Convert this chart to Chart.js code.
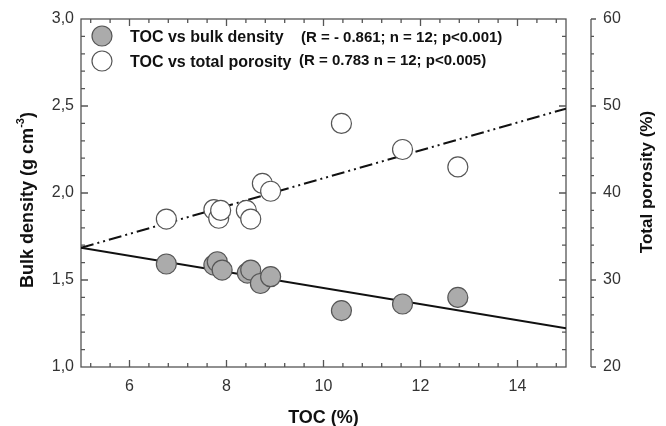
<!DOCTYPE html>
<html>
<head>
<meta charset="utf-8">
<script src="https://cdn.jsdelivr.net/npm/chart.js@4"></script>
<style>
  html, body { margin: 0; padding: 0; background: #fff; }
  #wrap { width: 666px; height: 426px; }
</style>
</head>
<body>
<div id="wrap"><canvas id="tocChart" width="666" height="426"></canvas></div>
<script>
// TOC vs bulk density (grey points, left axis)
const tocDensity = [6.76, 7.74, 7.81, 7.91, 8.43, 8.50, 8.70, 8.91, 10.37, 11.63, 12.77];
const bulkDensity = [1.592, 1.586, 1.605, 1.557, 1.540, 1.557, 1.480, 1.519, 1.324, 1.362, 1.400];

// TOC vs total porosity (white points, right axis)
const tocPorosity = [6.76, 7.74, 7.84, 7.88, 8.41, 8.50, 8.74, 8.91, 10.37, 11.63, 12.77];
const totalPorosity = [37.0, 38.1, 37.1, 38.0, 38.0, 37.0, 41.1, 40.2, 48.0, 45.0, 43.0];

// regression line end points
const fitX = [5, 15];
const fitDensity = [1.686, 1.222];
const fitPorosity = [33.7, 49.7];

// tick labels
const xTicks = [6, 8, 10, 12, 14];
const yTicks = [1.0, 1.5, 2.0, 2.5, 3.0];
const y2Ticks = [20, 30, 40, 50, 60];

const legendNames = ['TOC vs bulk density', 'TOC vs total porosity'];
const legendStats = ['(R = - 0.861; n = 12; p<0.001)', '(R = 0.783 n = 12; p<0.005)'];

const FONT = '"Liberation Sans", Arial, sans-serif';
const frameColor = '#555';
const greyFill = '#ababab';

function pts(xs, ys) {
    return xs.map(function (x, i) { return { x: x, y: ys[i] }; });
}

const frame = {
    id: 'frame',
    beforeDatasetsDraw(chart) {
        const ctx = chart.ctx;
        const a = chart.chartArea;
        const sx = chart.scales.x, sy = chart.scales.y, sy2 = chart.scales.y2;
        ctx.save();
        ctx.strokeStyle = frameColor;
        ctx.lineWidth = 1.3;
        ctx.strokeRect(a.left, a.top, a.right - a.left, a.bottom - a.top);

        ctx.beginPath();
        // x ticks, top and bottom, pointing inward
        for (let v = 5.2; v < 15; v += 0.4) {
            const px = sx.getPixelForValue(v);
            const major = Math.abs(v / 2 - Math.round(v / 2)) < 0.01;
            const len = major ? 7 : 4;
            ctx.moveTo(px, a.bottom); ctx.lineTo(px, a.bottom - len);
            ctx.moveTo(px, a.top); ctx.lineTo(px, a.top + len);
        }
        // y ticks, left and right, pointing inward
        for (let i = 1; i < 20; i++) {
            const v = 1 + i * 0.1;
            const py = sy.getPixelForValue(v);
            const len = i % 5 === 0 ? 7 : 4;
            ctx.moveTo(a.left, py); ctx.lineTo(a.left + len, py);
            ctx.moveTo(a.right, py); ctx.lineTo(a.right - len, py);
        }
        ctx.stroke();

        // separate right axis for porosity
        const ax = a.right + 25;
        ctx.beginPath();
        ctx.moveTo(ax, sy2.getPixelForValue(20));
        ctx.lineTo(ax, sy2.getPixelForValue(60));
        for (let v = 20; v <= 60; v += 2) {
            const py = sy2.getPixelForValue(v);
            ctx.moveTo(ax, py); ctx.lineTo(ax + (v % 10 === 0 ? 5 : 3), py);
        }
        ctx.stroke();

        // axis titles on the sides
        ctx.fillStyle = '#111';
        ctx.textBaseline = 'middle';
        ctx.save();
        ctx.translate(28, 200);
        ctx.rotate(-Math.PI / 2);
        const main = 'Bulk density (g cm';
        ctx.font = 'bold 18px ' + FONT;
        const w1 = ctx.measureText(main).width;
        ctx.font = 'bold 11px ' + FONT;
        const w2 = ctx.measureText('-3').width;
        ctx.font = 'bold 18px ' + FONT;
        const w3 = ctx.measureText(')').width;
        let tx = -(w1 + w2 + w3) / 2;
        ctx.textAlign = 'left';
        ctx.fillText(main, tx, 0);
        tx += w1;
        ctx.font = 'bold 11px ' + FONT;
        ctx.fillText('-3', tx, -7);
        tx += w2;
        ctx.font = 'bold 18px ' + FONT;
        ctx.fillText(')', tx, 0);
        ctx.restore();

        ctx.save();
        ctx.translate(647, 182);
        ctx.rotate(-Math.PI / 2);
        ctx.textAlign = 'center';
        ctx.font = 'bold 17px ' + FONT;
        ctx.fillText('Total porosity (%)', 0, 0);
        ctx.restore();
        ctx.restore();
    },
    afterDraw(chart) {
        const ctx = chart.ctx;
        ctx.save();
        const rows = [38, 63];
        const statX = [301, 299];
        const statY = [38, 61];
        const fills = [greyFill, '#fff'];
        rows.forEach(function (y, i) {
            ctx.beginPath();
            ctx.arc(102, y - 2, 10, 0, Math.PI * 2);
            ctx.fillStyle = fills[i];
            ctx.fill();
            ctx.lineWidth = 1.2;
            ctx.strokeStyle = frameColor;
            ctx.stroke();
            ctx.fillStyle = '#111';
            ctx.textBaseline = 'middle';
            ctx.textAlign = 'left';
            ctx.font = 'bold 16px ' + FONT;
            ctx.fillText(legendNames[i], 130, y);
            ctx.font = 'bold 15px ' + FONT;
            ctx.fillText(legendStats[i], statX[i], statY[i]);
        });
        ctx.restore();
    }
};

new Chart(document.getElementById('tocChart'), {
    type: 'scatter',
    data: {
        datasets: [{
            label: 'TOC vs bulk density',
            data: pts(tocDensity, bulkDensity),
            yAxisID: 'y',
            pointRadius: 10,
            pointBackgroundColor: greyFill,
            pointBorderColor: frameColor,
            pointBorderWidth: 1.2,
            order: 1
        }, {
            label: 'TOC vs total porosity',
            data: pts(tocPorosity, totalPorosity),
            yAxisID: 'y2',
            pointRadius: 10,
            pointBackgroundColor: '#fff',
            pointBorderColor: frameColor,
            pointBorderWidth: 1.2,
            order: 1
        }, {
            type: 'line',
            label: 'fit density',
            data: pts(fitX, fitDensity),
            yAxisID: 'y',
            borderColor: '#111',
            borderWidth: 2,
            pointRadius: 0,
            order: 2
        }, {
            type: 'line',
            label: 'fit porosity',
            data: pts(fitX, fitPorosity),
            yAxisID: 'y2',
            borderColor: '#111',
            borderWidth: 2,
            borderDash: [13, 4, 2, 4, 2, 4],
            pointRadius: 0,
            order: 2
        }]
    },
    options: {
        responsive: false,
        animation: false,
        layout: {
            padding: { top: 19, left: 0, right: 0, bottom: 0 }
        },
        scales: {
            x: {
                type: 'linear',
                min: 5,
                max: 15,
                afterBuildTicks: function (s) { s.ticks = xTicks.map(function (v) { return { value: v }; }); },
                afterFit: function (s) { s.height = 59; },
                grid: { display: false, drawTicks: false },
                border: { display: false },
                ticks: { padding: 10, color: '#333', font: { family: FONT, size: 16 } },
                title: {
                    display: true,
                    text: 'TOC (%)',
                    color: '#111',
                    padding: { top: 0, bottom: -3 },
                    font: { family: FONT, size: 18, weight: 'bold' }
                }
            },
            y: {
                type: 'linear',
                position: 'left',
                min: 1,
                max: 3,
                afterBuildTicks: function (s) { s.ticks = yTicks.map(function (v) { return { value: v }; }); },
                afterFit: function (s) { s.width = 81; },
                grid: { display: false, drawTicks: false },
                border: { display: false },
                ticks: {
                    padding: 7,
                    color: '#333',
                    font: { family: FONT, size: 16 },
                    callback: function (v) { return v.toFixed(1).replace('.', ','); }
                }
            },
            y2: {
                type: 'linear',
                position: 'right',
                min: 20,
                max: 60,
                afterBuildTicks: function (s) { s.ticks = y2Ticks.map(function (v) { return { value: v }; }); },
                afterFit: function (s) { s.width = 100; },
                grid: { display: false, drawTicks: true, tickLength: 33 },
                border: { display: false },
                ticks: { padding: 4, color: '#333', font: { family: FONT, size: 16 } }
            }
        },
        plugins: {
            legend: { display: false },
            tooltip: { enabled: false }
        }
    },
    plugins: [frame]
});
</script>
</body>
</html>
